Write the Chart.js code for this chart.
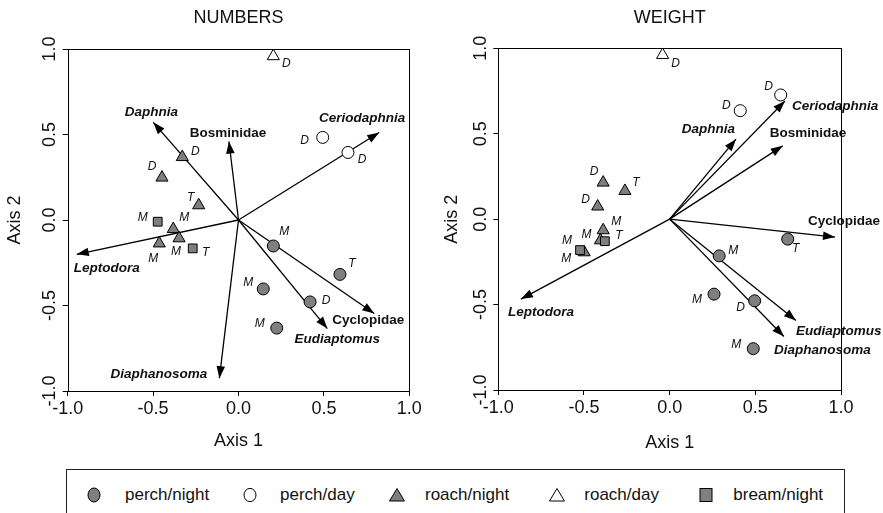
<!DOCTYPE html>
<html>
<head>
<meta charset="utf-8">
<title>NUMBERS / WEIGHT ordination</title>
<script src="https://cdn.jsdelivr.net/npm/chart.js@4.4.1/dist/chart.umd.min.js"></script>
<style>
  html, body { margin: 0; padding: 0; background: #fff; }
  body { width: 883px; height: 513px; position: relative; overflow: hidden;
         font-family: 'Liberation Sans', Arial, Helvetica, sans-serif; color: #111; }
  canvas { position: absolute; top: 0; }
  #numbers { left: 0; }
  #weight { left: 441px; }
  #legend { position: absolute; left: 66px; top: 469px; width: 779px; height: 60px;
            border: 1px solid #222; box-sizing: border-box; }
  .mk { position: absolute; }
  .lt { position: absolute; top: 15px; font-size: 17px; line-height: 20px; white-space: nowrap; }
</style>
</head>
<body>
<canvas id="numbers" width="441" height="465"></canvas>
<canvas id="weight" width="442" height="465"></canvas>
<div id="legend"></div>

<script>
// ---------------- data ----------------
const groups = ['perch/night', 'perch/day', 'roach/night', 'roach/day', 'bream/night'];
const xTickLabels = ['-1.0', '-0.5', '0.0', '0.5', '1.0'];
const yTickLabels = ['-1.0', '-0.5', '0.0', '0.5', '1.0'];

// NUMBERS: sample scores [axis 1, axis 2] and their period tags
const numPerchNight = [[0.204, -0.152], [0.594, -0.318], [0.145, -0.403], [0.419, -0.479], [0.224, -0.632]];
const numPerchNightTag = ['M', 'T', 'M', 'D', 'M'];
const numPerchDay = [[0.493, 0.483], [0.641, 0.395]];
const numPerchDayTag = ['D', 'D'];
const numRoachNight = [[-0.329, 0.368], [-0.448, 0.248], [-0.233, 0.086], [-0.382, -0.053], [-0.348, -0.107], [-0.464, -0.137]];
const numRoachNightTag = ['D', 'D', 'T', 'M', 'M', 'M'];
const numRoachDay = [[0.204, 0.958]];
const numRoachDayTag = ['D'];
const numBreamNight = [[-0.473, -0.010], [-0.268, -0.166]];
const numBreamNightTag = ['M', 'T'];

// NUMBERS: prey taxa vectors
const numTaxa = ['Daphnia', 'Bosminidae', 'Ceriodaphnia', 'Leptodora', 'Diaphanosoma', 'Cyclopidae', 'Eudiaptomus'];
const numTaxaX = [-0.499, -0.056, 0.824, -0.947, -0.112, 0.795, 0.520];
const numTaxaY = [0.571, 0.459, 0.512, -0.201, -0.925, -0.547, -0.635];

// WEIGHT: sample scores and tags
const wtPerchNight = [[0.689, -0.117], [0.289, -0.215], [0.259, -0.439], [0.496, -0.478], [0.488, -0.758]];
const wtPerchNightTag = ['T', 'M', 'M', 'D', 'M'];
const wtPerchDay = [[0.412, 0.635], [0.648, 0.727]];
const wtPerchDayTag = ['D', 'D'];
const wtRoachNight = [[-0.388, 0.214], [-0.261, 0.165], [-0.420, 0.074], [-0.388, -0.065], [-0.404, -0.124], [-0.499, -0.194]];
const wtRoachNightTag = ['D', 'T', 'D', 'M', 'M', 'M'];
const wtRoachDay = [[-0.041, 0.961]];
const wtRoachDayTag = ['D'];
const wtBreamNight = [[-0.378, -0.129], [-0.523, -0.181]];
const wtBreamNightTag = ['T', 'M'];

// WEIGHT: prey taxa vectors
const wtTaxa = ['Daphnia', 'Ceriodaphnia', 'Bosminidae', 'Cyclopidae', 'Leptodora', 'Eudiaptomus', 'Diaphanosoma'];
const wtTaxaX = [0.387, 0.673, 0.660, 0.965, -0.868, 0.737, 0.667];
const wtTaxaY = [0.468, 0.692, 0.429, -0.105, -0.468, -0.593, -0.687];

// ---------------- look & layout ----------------
const FONT = "'Liberation Sans', Arial, Helvetica, sans-serif";
const GREY = '#7f7f7f';
const genera = new Set(['Daphnia', 'Ceriodaphnia', 'Leptodora', 'Diaphanosoma', 'Eudiaptomus']);

const groupStyle = {
  'perch/night': { pointStyle: 'circle',   radius: 6,   fill: GREY,   order: 4 },
  'perch/day':   { pointStyle: 'circle',   radius: 6,   fill: '#fff', order: 3 },
  'roach/night': { pointStyle: 'triangle', radius: 7,   fill: GREY,   order: 2 },
  'roach/day':   { pointStyle: 'triangle', radius: 7,   fill: '#fff', order: 1 },
  'bream/night': { pointStyle: 'rect',     radius: 6.2, fill: GREY,   order: 0 }
};

// tag placement around each symbol, pixels [dx, dy]
const numTagOffsets = [
  [[11, -14], [12, -11], [-15, -6], [16, -1], [-17, -4]],
  [[-18, 3], [14, 7]],
  [[13, -5], [-10, -11], [-8, -8], [11, -11], [-3, 13], [-6, 15]],
  [[13, 7]],
  [[-15, -4], [13, 4]]
];
const wtTagOffsets = [
  [[8, 10], [14, -5], [-17, 6], [-14, 7], [-17, -4]],
  [[-14, -5], [-12, -8]],
  [[-9, -11], [11, -8], [-12, -7], [13, -9], [-14, -6], [-18, 6]],
  [[13, 9]],
  [[14, -6], [-13, -9]]
];
// taxon name placement relative to the arrow tip: [dx, dy, textAlign]
const numTaxaLabelPos = [[-2, -10, 'center'], [-1, -8.5, 'center'], [-17, -14, 'center'], [30, 14, 'center'],
                         [-12, -4, 'right'], [-6, 7, 'center'], [10, 11, 'center']];
const wtTaxaLabelPos = [[-1, -10, 'right'], [7, 5, 'left'], [-13, -13, 'left'], [-27, -16, 'left'],
                        [-13, 13, 'left'], [0, 11, 'left'], [-10, 14, 'left']];

const panels = [
  {
    canvas: 'numbers', title: 'NUMBERS',
    points: [numPerchNight, numPerchDay, numRoachNight, numRoachDay, numBreamNight],
    tags: [numPerchNightTag, numPerchDayTag, numRoachNightTag, numRoachDayTag, numBreamNightTag],
    tagOffsets: numTagOffsets,
    taxa: numTaxa, taxaX: numTaxaX, taxaY: numTaxaY, taxaLabelPos: numTaxaLabelPos,
    padRight: 31.7, yAxisWidth: 67.7, xAxisHeight: 74, titleGap: 20.4,
    xTitlePad: 13.5, yTitlePad: 4.2
  },
  {
    canvas: 'weight', title: 'WEIGHT',
    points: [wtPerchNight, wtPerchDay, wtRoachNight, wtRoachDay, wtBreamNight],
    tags: [wtPerchNightTag, wtPerchDayTag, wtRoachNightTag, wtRoachDayTag, wtBreamNightTag],
    tagOffsets: wtTagOffsets,
    taxa: wtTaxa, taxaX: wtTaxaX, taxaY: wtTaxaY, taxaLabelPos: wtTaxaLabelPos,
    padRight: 42, yAxisWidth: 57.3, xAxisHeight: 75, titleGap: 19.7,
    xTitlePad: 11.5, yTitlePad: 0
  }
];

// frame, arrowheads, taxon names and sample tags
function overlay(panel) {
  return {
    id: 'overlay',
    afterDatasetsDraw(chart) {
      const { ctx, chartArea: a, scales: { x, y } } = chart;
      ctx.save();
      ctx.strokeStyle = '#000';
      ctx.lineWidth = 1;
      const l = Math.round(a.left) + 0.5, t = Math.round(a.top) + 0.5;
      ctx.strokeRect(l, t, Math.round(a.right) - Math.round(a.left), Math.round(a.bottom) - Math.round(a.top));

      const x0 = x.getPixelForValue(0), y0 = y.getPixelForValue(0);
      panel.taxa.forEach((name, i) => {
        const x1 = x.getPixelForValue(panel.taxaX[i]);
        const y1 = y.getPixelForValue(panel.taxaY[i]);
        const ang = Math.atan2(y1 - y0, x1 - x0);
        const L = 12, W = 4.3, c = Math.cos(ang), s = Math.sin(ang);
        ctx.beginPath();
        ctx.moveTo(x1, y1);
        ctx.lineTo(x1 - L * c + W * s, y1 - L * s - W * c);
        ctx.lineTo(x1 - L * c - W * s, y1 - L * s + W * c);
        ctx.closePath();
        ctx.fillStyle = '#000';
        ctx.fill();

        const [dx, dy, align] = panel.taxaLabelPos[i];
        ctx.font = (genera.has(name) ? 'italic ' : '') + 'bold 13.5px ' + FONT;
        ctx.textAlign = align;
        ctx.textBaseline = 'middle';
        ctx.fillStyle = '#111';
        ctx.fillText(name, x1 + dx, y1 + dy);
      });

      ctx.font = 'italic 12px ' + FONT;
      ctx.textAlign = 'center';
      ctx.textBaseline = 'middle';
      ctx.fillStyle = '#111';
      panel.points.forEach((pts, g) => {
        pts.forEach(([vx, vy], k) => {
          const [dx, dy] = panel.tagOffsets[g][k];
          ctx.fillText(panel.tags[g][k], x.getPixelForValue(vx) + dx, y.getPixelForValue(vy) + dy);
        });
      });
      ctx.restore();
    }
  };
}

function buildChart(panel) {
  const datasets = [];
  groups.forEach((g, gi) => {
    const st = groupStyle[g];
    datasets.push({
      label: g,
      data: panel.points[gi].map(([vx, vy]) => ({ x: vx, y: vy })),
      pointStyle: st.pointStyle,
      pointRadius: st.radius,
      pointBackgroundColor: st.fill,
      pointBorderColor: '#000',
      pointBorderWidth: 1,
      showLine: false,
      clip: false,
      order: st.order
    });
  });
  panel.taxa.forEach((name, i) => {
    datasets.push({
      label: name,
      data: [{ x: 0, y: 0 }, { x: panel.taxaX[i], y: panel.taxaY[i] }],
      showLine: true,
      borderColor: '#000',
      borderWidth: 1.3,
      pointRadius: 0,
      clip: false,
      order: 10
    });
  });

  const tickFont = { family: FONT, size: 18 };
  const titleFont = { family: FONT, size: 18 };

  return new Chart(document.getElementById(panel.canvas), {
    type: 'scatter',
    data: { datasets },
    options: {
      responsive: false,
      animation: false,
      events: [],
      layout: { padding: { left: 0, right: panel.padRight, top: 0, bottom: 0 }, autoPadding: false },
      plugins: {
        legend: { display: false },
        tooltip: { enabled: false },
        title: {
          display: true, text: panel.title, fullSize: false, color: '#111',
          font: { family: FONT, size: 18, weight: 'normal' },
          padding: { top: 7, bottom: panel.titleGap }
        }
      },
      scales: {
        x: {
          type: 'linear', position: 'bottom', min: -1, max: 1,
          ticks: { stepSize: 0.5, autoSkip: false, maxRotation: 0, minRotation: 0, padding: 2,
                   color: '#111', font: tickFont, callback: (v, i) => xTickLabels[i] },
          grid: { drawOnChartArea: false, drawTicks: true, tickLength: 5, color: '#000', lineWidth: 1 },
          border: { display: false },
          title: { display: true, text: 'Axis 1', color: '#111', font: titleFont,
                   padding: { top: 0, bottom: panel.xTitlePad } },
          afterFit(s) { s.height = panel.xAxisHeight; }
        },
        y: {
          type: 'linear', position: 'left', min: -1, max: 1,
          ticks: { stepSize: 0.5, autoSkip: false, minRotation: 90, maxRotation: 90, crossAlign: 'center',
                   padding: -3, color: '#111', font: tickFont, callback: (v, i) => yTickLabels[i] },
          grid: { drawOnChartArea: false, drawTicks: true, tickLength: 5, color: '#000', lineWidth: 1 },
          border: { display: false },
          title: { display: true, text: 'Axis 2', color: '#111', font: titleFont,
                   padding: { top: panel.yTitlePad, bottom: 0 } },
          afterFit(s) { s.width = panel.yAxisWidth; }
        }
      }
    },
    plugins: [overlay(panel)]
  });
}

panels.forEach(buildChart);

// ---------------- shared legend ----------------
const legendSpots = [[27, 58], [183, 213], [329.7, 358], [489.7, 517.3], [638.7, 666.3]];
const legendMarks = {
  'perch/night': '<svg width="14" height="16"><ellipse cx="7" cy="8" rx="6" ry="7" fill="' + GREY + '" stroke="#000" stroke-width="1"/></svg>',
  'perch/day':   '<svg width="14" height="16"><ellipse cx="7" cy="8" rx="6" ry="6.6" fill="#fff" stroke="#000" stroke-width="1"/></svg>',
  'roach/night': '<svg width="18" height="16"><polygon points="9,1.5 16.5,14 1.5,14" fill="' + GREY + '" stroke="#000" stroke-width="1"/></svg>',
  'roach/day':   '<svg width="18" height="16"><polygon points="9,1.5 16.5,14 1.5,14" fill="#fff" stroke="#000" stroke-width="1"/></svg>',
  'bream/night': '<svg width="14" height="16"><rect x="1" y="1.5" width="12" height="13" fill="' + GREY + '" stroke="#000" stroke-width="1"/></svg>'
};
const legendEl = document.getElementById('legend');
groups.forEach((g, i) => {
  const [mx, tx] = legendSpots[i];
  const mk = document.createElement('div');
  mk.className = 'mk';
  mk.innerHTML = legendMarks[g];
  const w = g.startsWith('roach') ? 18 : 14;
  mk.style.left = (mx - w / 2) + 'px';
  mk.style.top = (25 - 8) + 'px';
  legendEl.appendChild(mk);
  const lt = document.createElement('div');
  lt.className = 'lt';
  lt.style.left = tx + 'px';
  lt.textContent = g;
  legendEl.appendChild(lt);
});
</script>
</body>
</html>
